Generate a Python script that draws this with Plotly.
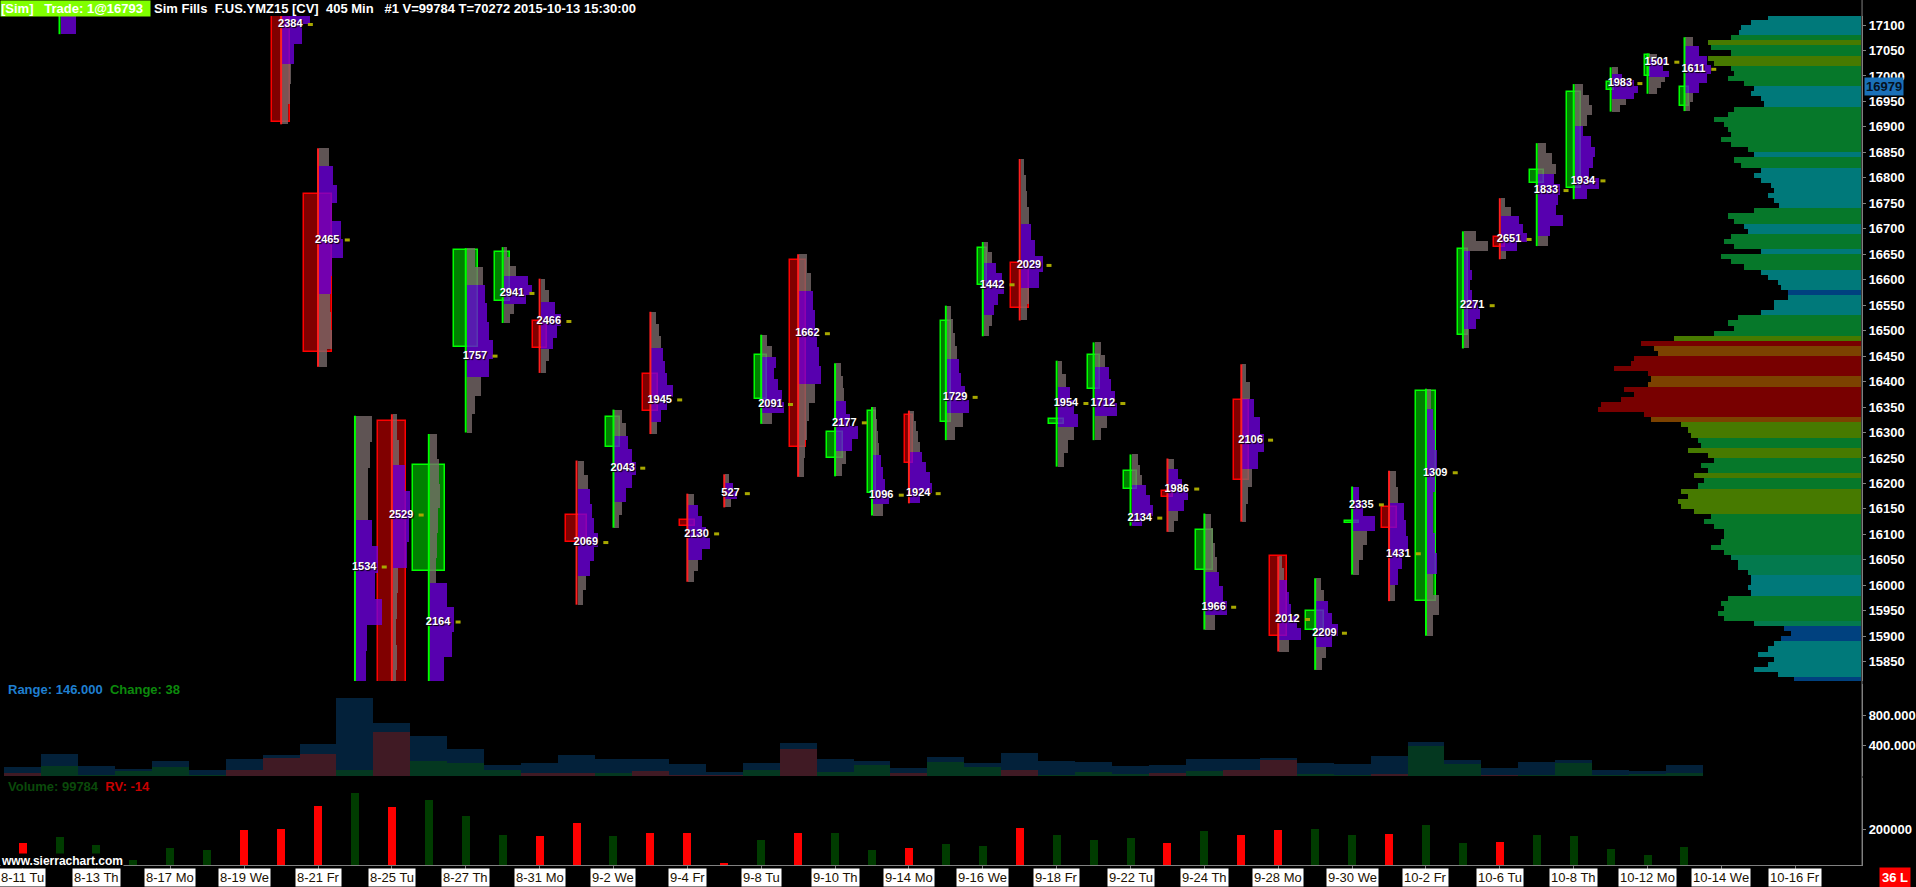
import plotly.graph_objects as go

# ============================ DATA ============================
date_labels = ["8-11 Tu", "8-13 Th", "8-17 Mo", "8-19 We", "8-21 Fr", "8-25 Tu", "8-27 Th",
               "8-31 Mo", "9-2 We", "9-4 Fr", "9-8 Tu", "9-10 Th", "9-14 Mo", "9-16 We",
               "9-18 Fr", "9-22 Tu", "9-24 Th", "9-28 Mo", "9-30 We", "10-2 Fr", "10-6 Tu",
               "10-8 Th", "10-12 Mo", "10-14 We", "10-16 Fr"]
date_label_bar = list(range(0, 49, 2))

price_ticks = list(range(15850, 17101, 50))
last_price = 16979

N = None
bar_open  = [N, 17150, N, N, N, N, N, 17260, 16768, 15700, 16322, 16029, 16468, 16559, 16518,
             16139, 16271, 16415, 16129, 16184, 16365, 16638, 16250, 16182, 16335, 16321, 16590,
             16633, 16317, 16386, 16189, 16185, 16031, 16364, 16057, 15913, 16122, 16153, 15969,
             16491, 16683, 16790, 16781, 16972, 16999, 16941]
bar_high  = [N, 17369, N, N, N, N, N, 17300, 16858, 16333, 16336, 16297, 16662, 16664, 16602,
             16245, 16345, 16537, 16180, 16218, 16492, 16650, 16436, 16350, 16343, 16549, 16674,
             16837, 16441, 16477, 16257, 16249, 16141, 16434, 16057, 16014, 16194, 16225, 16386,
             16695, 16760, 16868, 16984, 17017, 17044, 17076]
bar_low   = [N, 17082, N, N, N, N, N, 16905, 16429, 15307, 15632, 15762, 16300, 16515, 16417,
             15962, 16113, 16297, 16007, 16153, 16317, 16213, 16214, 16137, 16161, 16285, 16489,
             16520, 16233, 16285, 16117, 16105, 15913, 16125, 15870, 15834, 16021, 15969, 15901,
             16465, 16640, 16666, 16758, 16930, 16965, 16931]
bar_close = [N, 17280, N, N, N, N, N, 16910, 16459, 15783, 15735, 16236, 16658, 16654, 16465,
             16086, 16331, 16343, 16117, 16182, 16453, 16271, 16302, 16343, 16240, 16518, 16662,
             16544, 16326, 16453, 16225, 16173, 16108, 16206, 15901, 15949, 16127, 16113, 16381,
             16660, 16665, 16815, 16968, 16989, 17041, 16979]
poc_price = [N, N, N, N, N, N, N, 17101, 16678, 16036, 16138, 15928, 16450, 16573, 16518,
             16084, 16230, 16364, 16101, 16180, 16355, 16494, 16319, 16177, 16180, 16369, 16590,
             16628, 16357, 16357, 16132, 16189, 15957, 16285, 15933, 15906, 16158, 16062, 16221,
             16549, 16679, 16775, 16794, 16985, 17027, 17013]
poc_volume = [N, N, N, N, N, N, N, 2384, 2465, 1534, 2529, 2164, 1757, 2941, 2466,
              2069, 2043, 1945, 2130, 527, 2091, 1662, 2177, 1096, 1924, 1729, 1442,
              2029, 1954, 1712, 2134, 1986, 1966, 2106, 2012, 2209, 2335, 1431, 1309,
              2271, 2651, 1833, 1934, 1983, 1501, 1611]
va_high = [N, 17300, N, N, N, N, N, 17200, 16806, 16148, 16216, 15998, 16603, 16605, 16550,
           16190, 16300, 16470, 16150, 16200, 16440, 16560, 16360, 16250, 16260, 16450, 16640,
           16700, 16400, 16440, 16200, 16220, 16030, 16360, 16000, 15960, 16180, 16150, 16350,
           16652, 16721, 16806, 16909, 16999, 17035, 17054]
va_low  = [N, 17082, N, N, N, N, N, 17028, 16560, 15650, 16020, 15780, 16400, 16550, 16470,
           16010, 16170, 16330, 16060, 16165, 16330, 16400, 16260, 16150, 16170, 16330, 16540,
           16580, 16300, 16330, 16125, 16140, 15930, 16220, 15900, 15870, 16100, 16000, 16020,
           16503, 16650, 16692, 16767, 16959, 17000, 16975]
# per-bar volume-at-price profile, high -> low, equal price steps
bar_profile = [
    N,
    [10, 14, 18, 22, 20, 22, 24, 16],
    N, N, N, N, N,
    [18, 20, 22, 24, 28, 20, 12, 9, 8, 6],
    [10, 14, 18, 13, 22, 24, 13, 12, 11, 12, 13, 8],
    [16, 14, 12, 12, 16, 22, 19, 26, 11, 10, 10, 9, 8, 8, 7, 6, 6, 5, 4, 3],
    [4, 6, 12, 17, 16, 14, 5, 4, 3, 4, 3, 3, 2, 2],
    [7, 9, 10, 8, 7, 6, 17, 24, 22, 14, 10],
    [8, 16, 18, 20, 22, 26, 22, 14, 8, 5],
    [3, 6, 12, 24, 28, 22, 10, 6],
    [4, 8, 14, 20, 16, 12, 8, 5],
    [6, 10, 12, 14, 16, 20, 16, 12, 8, 5],
    [8, 12, 14, 18, 22, 18, 12, 8, 5],
    [5, 8, 10, 12, 14, 16, 22, 16, 10, 6],
    [6, 10, 14, 18, 22, 14, 10, 6],
    [4, 8, 12, 6],
    [5, 10, 14, 12, 16, 20, 22, 10],
    [8, 12, 14, 16, 18, 20, 22, 16, 10, 8, 6, 5],
    [5, 7, 8, 10, 14, 22, 16, 10, 6],
    [3, 4, 5, 6, 8, 10, 12, 16, 10],
    [4, 6, 8, 10, 12, 16, 20, 22, 10],
    [4, 6, 8, 10, 12, 14, 18, 22, 16, 8],
    [4, 8, 12, 18, 20, 14, 10, 8, 5],
    [3, 5, 6, 8, 10, 14, 22, 18, 8, 6],
    [4, 8, 12, 16, 20, 16, 10, 6],
    [6, 10, 14, 16, 20, 22, 12, 6],
    [6, 8, 10, 14, 18, 22, 10],
    [6, 10, 14, 20, 16, 10, 6],
    [6, 8, 10, 12, 14, 18, 22, 10],
    [4, 8, 12, 18, 22, 16, 10, 6, 4],
    [3, 5, 8, 10, 12, 18, 22, 10],
    [5, 8, 12, 16, 22, 16, 10, 6],
    [6, 10, 22, 14, 10, 6],
    [6, 8, 14, 16, 18, 12, 8, 5],
    [4, 6, 8, 10, 8, 6, 6, 8, 10, 6, 12, 6],
    [12, 24, 6, 6, 8, 6, 8, 14, 16, 12, 5, 5],
    [4, 10, 18, 22, 26, 16, 5],
    [8, 14, 18, 16, 22, 20, 18, 25, 12, 10],
    [8, 14, 17, 12, 8, 16, 20, 18, 14, 24, 12],
    [6, 10, 22, 26, 22, 14, 8],
    [8, 16, 14, 20, 16, 12, 8],
    [8, 14, 22, 26, 22, 14, 8, 5],
]

volume = [122000, 156000, 111000, 30000, 96000, 83000, 194000, 200000, 328000, 400000,
          322000, 361000, 272000, 167000, 161000, 233000, 161000, 178000, 178000, 11000,
          139000, 178000, 178000, 83000, 94000, 117000, 106000, 206000, 167000, 139000,
          150000, 122000, 189000, 167000, 194000, 200000, 167000, 172000, 222000, 122000,
          128000, 167000, 161000, 89000, 56000, 99784]
bar_range = [113, 287, 130, 91, 196, 78, 222, 274, 417, 1026, 704, 535, 352, 143, 170, 274,
             222, 222, 156, 52, 170, 430, 222, 196, 104, 248, 170, 300, 196, 183, 130, 143,
             222, 222, 235, 170, 156, 261, 456, 209, 104, 183, 209, 78, 65, 146]
bar_change = [-39, 130, 13, 65, 117, 4, -83, -239, -287, 83, -587, 196, 170, 83, -39, -39,
              39, -65, -12, -2, 78, -352, 52, 143, -39, 183, 117, -78, 9, 52, 26, -39,
              65, -78, -209, 26, 5, -26, 391, 156, -13, 13, 170, 5, 26, 38]

# composite volume profile (10-point rows from 17115 down to 15815)
comp_top, comp_step = 17115, 10
comp_vol = [
    93, 110, 120, 122, 130, 153, 150, 130, 153, 147,
    130, 127, 133, 117, 107, 110, 100, 97, 127, 133,
    147, 137, 133, 130, 140, 130, 113, 107, 127, 120,
    100, 107, 100, 90, 87, 93, 87, 82, 107, 133,
    127, 117, 113, 130, 137, 127, 100, 140, 130, 117,
    100, 93, 83, 80, 73, 73, 87, 87, 100, 123,
    133, 127, 147, 187, 220, 207, 203, 227, 230, 247,
    213, 210, 213, 237, 227, 240, 260, 263, 217, 210,
    180, 173, 170, 163, 160, 173, 153, 147, 160, 153,
    167, 157, 163, 180, 173, 183, 180, 167, 150, 157,
    147, 137, 137, 140, 150, 137, 130, 123, 123, 113,
    110, 110, 113, 110, 133, 140, 137, 143, 137, 107,
    77, 70, 80, 87, 93, 103, 87, 93, 107, 83,
    67]
comp_cls = ("TTTTGLGGLL" "GGGGTTTTGG" "GGGGGGGTGG" "TTTTTTTTGG" "GTTGGGTGGG"
            "TTTTBTTTTG" "GGGLROORRR" "ROORRRRRRO" "LLLGGLLGGG" "LGGLLLLLGG"
            "GGGGGGEEEE" "TTTTGGGGGE" "BBBTTTTTTT" "B")

# ============================ STYLE ============================
W, H = 1916, 887
PXB = 36.97          # pixels per bar slot
X0 = 22.6            # pixel centre of bar 0
AXIS_PX = 1864       # price-axis line
BODY_PX_PER_VOL = 0.087 / 1000
COMP_PX = 1.0
COMP_COL = {'R': '#780000', 'O': '#7c4200', 'L': '#477a00', 'G': '#06782a',
            'E': '#037a4e', 'T': '#00797a', 'B': '#00417f'}
PURPLE, GREY = '#7000e0', '#7a6c6c'

def py(px):  # pixel row -> paper
    return 1 - px / H

main_dom = [py(681), py(16)]
main_rng = [17100 - (681 - 25) / 0.5094, 17100 + (25 - 16) / 0.5094]
rng_dom = [py(776), py(684)]
rng_rng = [0, (776 - 684) / 0.0756]
vol_dom = [py(865), py(778)]
vol_rng = [0, (865 - 778) / 36 * 200000]
x_rng = [-X0 / PXB, (AXIS_PX - X0) / PXB]
x_dom = [0, AXIS_PX / W]

fig = go.Figure()

# ---- composite profile on the right
comp_price = [comp_top - k * comp_step for k in range(len(comp_vol))]
xr = (AXIS_PX - 1 - X0) / PXB
fig.add_trace(go.Bar(orientation='h', y=comp_price, x=[v * COMP_PX / PXB for v in comp_vol],
                     base=[xr - v * COMP_PX / PXB for v in comp_vol], width=comp_step,
                     marker=dict(color=[COMP_COL[c] for c in comp_cls], line_width=0),
                     xaxis='x', yaxis='y'))

idx = [i for i in range(len(bar_open)) if bar_open[i] is not None]

# ---- candle bodies
fig.add_trace(go.Bar(
    x=idx, base=[min(bar_open[i], bar_close[i]) for i in idx],
    y=[max(abs(bar_close[i] - bar_open[i]), 2) for i in idx],
    width=[volume[i] * BODY_PX_PER_VOL / PXB for i in idx],
    marker=dict(color=['#008000' if bar_close[i] >= bar_open[i] else '#800000' for i in idx],
                line=dict(color=['#00ff00' if bar_close[i] >= bar_open[i] else '#ff0000' for i in idx],
                          width=1.5)),
    xaxis='x', yaxis='y'))

# ---- per bar profiles
pf_y, pf_x, pf_b, pf_w, pf_c = [], [], [], [], []
for i in idx:
    prof = bar_profile[i]
    step = (bar_high[i] - bar_low[i]) / len(prof)
    for k, v in enumerate(prof):
        yc = bar_high[i] - step * (k + 0.5)
        pf_y.append(yc)
        pf_x.append(v / PXB)
        pf_b.append(i + 1 / PXB)
        pf_w.append(step)
        pf_c.append(PURPLE if va_low[i] <= yc <= va_high[i] else GREY)
fig.add_trace(go.Bar(orientation='h', y=pf_y, x=pf_x, base=pf_b, width=pf_w,
                     marker=dict(color=pf_c, opacity=0.78, line_width=0), xaxis='x', yaxis='y'))

# ---- wicks
for up, col in ((True, '#00ff00'), (False, '#ff2020')):
    wx, wy = [], []
    for i in idx:
        if (bar_close[i] >= bar_open[i]) == up:
            wx += [i, i, None]
            wy += [bar_high[i], bar_low[i], None]
    fig.add_trace(go.Scatter(x=wx, y=wy, mode='lines', line=dict(color=col, width=2),
                             xaxis='x', yaxis='y'))

# ---- POC markers and labels
pidx = [i for i in idx if poc_price[i] is not None]
mx, my = [], []
for i in pidx:
    a = i + (2 + 6.2 * len(str(poc_volume[i]))) / PXB
    mx += [a, a + 5 / PXB, None]
    my += [poc_price[i], poc_price[i], None]
fig.add_trace(go.Scatter(x=mx, y=my, mode='lines', line=dict(color='#a8a800', width=3),
                         xaxis='x', yaxis='y'))
fig.add_trace(go.Scatter(x=[i - 3 / PXB for i in pidx], y=[poc_price[i] for i in pidx],
                         text=[str(poc_volume[i]) for i in pidx], mode='text',
                         textposition='middle right',
                         textfont=dict(color='white', size=11, family='Arial', weight='bold',
                                       shadow='1px 1px 1px #000'),
                         xaxis='x', yaxis='y'))

# ---- range / change study
fig.add_trace(go.Bar(x=list(range(len(bar_range))), y=bar_range, width=1.0,
                     marker=dict(color='#03213a', line_width=0), xaxis='x', yaxis='y2'))
fig.add_trace(go.Bar(x=list(range(len(bar_change))), y=[abs(c) for c in bar_change], width=1.0,
                     marker=dict(color=['#043820' if c > 0 else '#401a24' for c in bar_change],
                                 line_width=0), xaxis='x', yaxis='y2'))

# ---- volume
fig.add_trace(go.Bar(x=list(range(len(volume))), y=volume, width=8 / PXB,
                     marker=dict(color=['#003c00' if c > 0 else '#ff0000' for c in bar_change],
                                 line_width=0), xaxis='x', yaxis='y3'))

axfont = dict(color='white', size=13, family='Arial', weight='bold')
common_y = dict(side='right', anchor='x', showgrid=False, zeroline=False, showline=True,
                linecolor='#808080', ticks='outside', ticklen=3, tickcolor='#808080',
                tickfont=axfont, fixedrange=True)
fig.update_layout(
    width=W, height=H, margin=dict(l=0, r=0, t=0, b=0),
    paper_bgcolor='black', plot_bgcolor='black', showlegend=False, barmode='overlay',
    hovermode=False, bargap=0,
    xaxis=dict(domain=x_dom, range=x_rng, anchor='y3', showgrid=False, zeroline=False,
               showline=True, linecolor='#808080', ticks='outside', ticklen=3,
               tickcolor='#808080', tickvals=date_label_bar, showticklabels=False,
               fixedrange=True),
    yaxis=dict(domain=main_dom, range=main_rng, tickvals=price_ticks,
               ticktext=[str(p) for p in price_ticks], **common_y),
    yaxis2=dict(domain=rng_dom, range=rng_rng, tickvals=[400, 800],
                ticktext=['400.000', '800.000'], **common_y),
    yaxis3=dict(domain=vol_dom, range=vol_rng, tickvals=[200000], ticktext=['200000'],
                **common_y),
)

fig.add_shape(type='line', xref='paper', yref='paper', x0=AXIS_PX / W, x1=AXIS_PX / W,
              y0=py(866), y1=1, line=dict(color='#808080', width=1))

ann = []
hdr_font = dict(color='white', size=13, family='Arial', weight='bold')
ann.append(dict(xref='paper', yref='paper', x=0, y=1, xanchor='left', yanchor='top',
                text='[Sim]\u00a0\u00a0\u00a0Trade: 1@16793\u00a0\u00a0', bgcolor='#80ff00', font=hdr_font,
                showarrow=False, borderpad=0))
ann.append(dict(xref='paper', yref='paper', x=153 / W, y=1, xanchor='left', yanchor='top',
                text='Sim Fills\u00a0\u00a0F.US.YMZ15 [CV]\u00a0\u00a0405 Min\u00a0\u00a0\u00a0#1 V=99784 T=70272 2015-10-13 15:30:00',
                font=hdr_font, showarrow=False, borderpad=0))
ann.append(dict(xref='paper', yref='paper', x=6 / W, y=py(689), xanchor='left', yanchor='middle',
                text='<span style="color:#1f7fd0">Range: %.3f</span>\u00a0\u00a0<span style="color:#0c8a0c">Change: %d</span>'
                     % (bar_range[-1], bar_change[-1]),
                font=dict(size=13, family='Arial', weight='bold'), showarrow=False))
ann.append(dict(xref='paper', yref='paper', x=6 / W, y=py(786), xanchor='left', yanchor='middle',
                text='<span style="color:#0b4a0b">Volume: %d</span>\u00a0\u00a0<span style="color:#c80000">RV: -14</span>'
                     % volume[-1],
                font=dict(size=13, family='Arial', weight='bold'), showarrow=False))
ann.append(dict(xref='paper', yref='paper', x=0, y=py(861), xanchor='left', yanchor='middle',
                text='www.sierrachart.com', bgcolor='black',
                font=dict(color='white', size=12, family='Arial', weight='bold'),
                showarrow=False, borderpad=0))
ann.append(dict(xref='paper', yref='y', x=1866 / W, y=last_price, xanchor='left', yanchor='middle',
                text=str(last_price), bgcolor='#1a70b8',
                font=dict(color='#06121f', size=13, family='Arial', weight='bold'),
                showarrow=False, borderpad=1))
ann.append(dict(xref='paper', yref='paper', x=1881 / W, y=py(877), xanchor='left', yanchor='middle',
                text='36 L', bgcolor='#ff0000',
                font=dict(color='white', size=13, family='Arial', weight='bold'),
                showarrow=False, borderpad=2))
for b, lab in zip(date_label_bar, date_labels):
    ann.append(dict(xref='x', yref='paper', x=b, y=py(877), xanchor='center', yanchor='middle',
                    text=lab, bgcolor='white',
                    font=dict(color='#1a1000', size=13, family='Liberation Sans Narrow, Arial Narrow, Arial'),
                    showarrow=False, borderpad=1))
fig.update_layout(annotations=ann)

fig.write_html("out.html", include_plotlyjs=True, config={'displayModeBar': False},
               post_script="document.body.style.margin='0';document.body.style.overflow='hidden';")
